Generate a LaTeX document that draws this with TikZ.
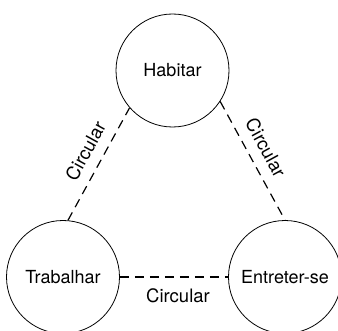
\documentclass[tikz,border=0pt]{standalone}
\usepackage{fontspec}
\setmainfont{TeX Gyre Heros}

\begin{document}
\begin{tikzpicture}[x=1pt,y=1pt,
	place/.style={draw, circle, minimum size=113pt, inner sep=0pt, line width=0.8pt, font=\fontsize{18}{20}\selectfont},
	link/.style={dash pattern=on 9pt off 6pt, line width=1.2pt},
	tag/.style={font=\fontsize{18.5}{20}\selectfont}]
	\useasboundingbox (0,0) rectangle (338,330);
	\node [place] (habitar) at (172.5,259.5) {Habitar};
	\node [place] (trabalhar) at (63,53) {Trabalhar};
	\node [place] (entreter) at (285,53) {Entreter-se};
	\draw [link] (trabalhar.85) -- (habitar.221) node [tag,pos=0.54,sloped,above=7pt] {Circular};
	\draw [link] (habitar.-33) -- (entreter.north) node [tag,pos=0.46,sloped,above=7pt] {Circular};
	\draw [link] (trabalhar.east) -- (entreter.west) node [tag,midway,below=8pt,xshift=4pt] {Circular};
\end{tikzpicture}
\end{document}
